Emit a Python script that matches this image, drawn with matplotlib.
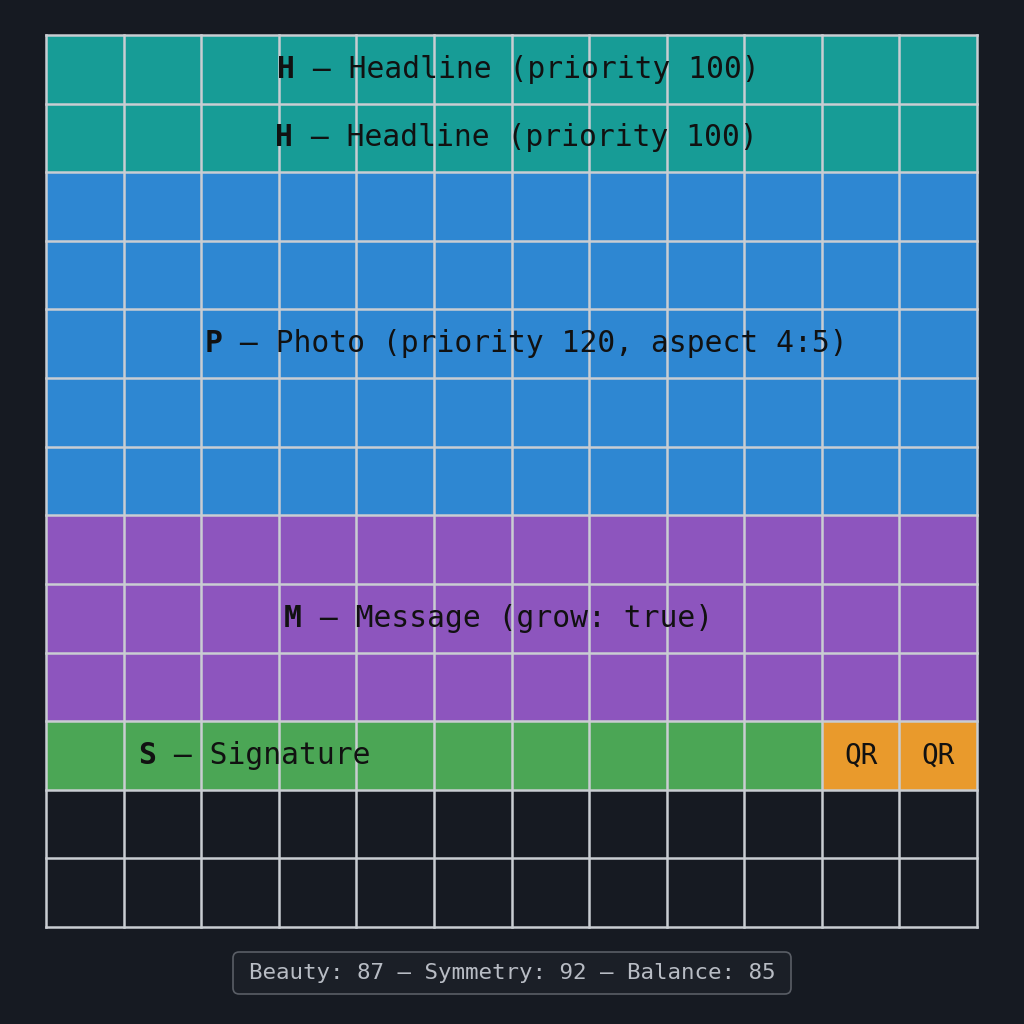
import matplotlib
matplotlib.use("Agg")
import matplotlib.pyplot as plt
from matplotlib.patches import Rectangle, FancyBboxPatch

ncols, nrows = 12, 13
# blocks: (col, row, width, height, colour)
blocks_col = [0, 0, 0, 0, 10, 11]
blocks_row = [0, 2, 7, 10, 10, 10]
blocks_w = [12, 12, 12, 10, 1, 1]
blocks_h = [2, 5, 3, 1, 1, 1]
blocks_c = ["#179C96", "#2E87D2", "#8D55BE", "#4BA655", "#E99A2C", "#E99A2C"]

labels_bold = ["H", "H", "P", "M", "S"]
labels_rest = [" — Headline (priority 100)", " — Headline (priority 100)",
               " — Photo (priority 120, aspect 4:5)", " — Message (grow: true)", " — Signature"]
labels_x = [2.98, 2.95, 2.04, 3.07, 1.19]
labels_y = [0.5, 1.5, 4.5, 8.5, 10.5]
qr_labels = ["QR", "QR"]
score_text = "Beauty: 87 — Symmetry: 92 — Balance: 85"

bg = "#161A22"
fig = plt.figure(figsize=(10.24, 10.24), dpi=100, facecolor=bg)
ax = fig.add_axes([46/1024, 97/1024, 931/1024, 892/1024])
ax.set_facecolor(bg)
ax.set_xlim(0, ncols); ax.set_ylim(nrows, 0)
ax.axis("off")
for c, r, w, h, col in zip(blocks_col, blocks_row, blocks_w, blocks_h, blocks_c):
    ax.add_patch(Rectangle((c, r), w, h, facecolor=col, edgecolor="none"))
for i in range(ncols + 1):
    ax.plot([i, i], [0, nrows], color="#C9CDD2", lw=1.8, clip_on=False)
for j in range(nrows + 1):
    ax.plot([0, ncols], [j, j], color="#C9CDD2", lw=1.8, clip_on=False)

fs = 21.3
cw = 0.602 * fs * (100 / 72) / (931 / 12)
for b, rest, x, y in zip(labels_bold, labels_rest, labels_x, labels_y):
    ax.text(x, y, b, family="DejaVu Sans Mono", weight="bold", fontsize=fs,
            color="#111111", ha="left", va="center")
    ax.text(x + cw, y, rest, family="DejaVu Sans Mono", fontsize=fs,
            color="#111111", ha="left", va="center")
for k, t in enumerate(qr_labels):
    ax.text(10.5 + k, 10.5, t, family="DejaVu Sans Mono", fontsize=20,
            color="#111111", ha="center", va="center")

fig.patches.append(FancyBboxPatch((233/1024, 30/1024), 558/1024, 42/1024,
                                  boxstyle="round,pad=0,rounding_size=0.006",
                                  transform=fig.transFigure, facecolor="#1B1F27",
                                  edgecolor="#5A5E66", lw=1.2))
fig.text(512/1024, 51/1024, score_text, family="DejaVu Sans Mono", fontsize=16.2,
         color="#B8BCC4", ha="center", va="center")
fig.savefig("out.png", dpi=100, facecolor=bg)
